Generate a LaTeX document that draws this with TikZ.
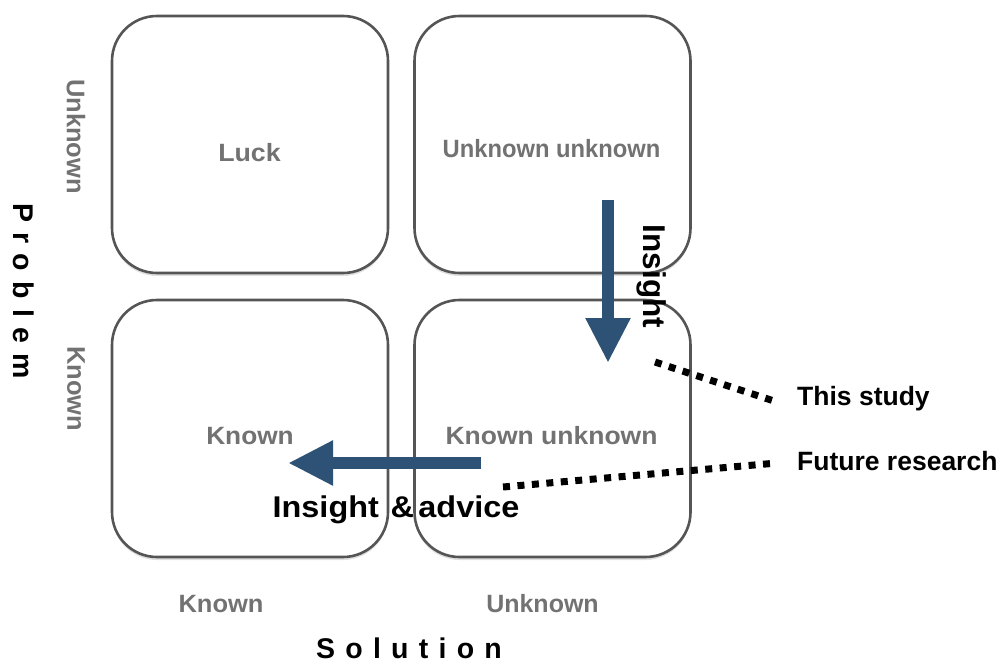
\documentclass[tikz,border=0pt]{standalone}
\usepackage{fontspec}
\setmainfont{Liberation Sans}
\usetikzlibrary{arrows.meta,shadows}
\definecolor{boxline}{HTML}{555555}
\definecolor{graytext}{HTML}{727272}
\definecolor{arrowblue}{HTML}{2E5275}
\tikzset{
  quad/.style={draw=boxline, line width=2.6pt, fill=white, rounded corners=45pt,
    minimum width=276pt, minimum height=257pt, inner sep=0pt,
    drop shadow={shadow xshift=0pt, shadow yshift=-3pt, fill=black, opacity=0.12}},
  graylbl/.style={text=graytext, font=\fontsize{25}{29}\selectfont\bfseries, inner sep=0pt, anchor=base},
  vgraylbl/.style={text=graytext, font=\fontsize{25.5}{29}\selectfont\bfseries, inner sep=0pt, rotate=-90},
  blacklbl/.style={text=black, font=\fontsize{26.5}{30}\selectfont\bfseries, inner sep=0pt, anchor=base west},
  biglbl/.style={text=black, font=\fontsize{30}{34}\selectfont\bfseries, inner sep=0pt},
  spacedlbl/.style={text=black, font=\fontsize{28.5}{32}\selectfont\bfseries\addfontfeature{LetterSpace=36}, inner sep=0pt},
  bluearrow/.style={draw=arrowblue, line width=12.5pt, -{Triangle[width=42pt,length=45pt]}},
  dotline/.style={draw=black, line width=7pt, dash pattern=on 7pt off 7.5pt}
}
\begin{document}
\begin{tikzpicture}[x=1pt,y=-1pt]
\useasboundingbox (0,0) rectangle (1000,664);
% quadrants
\node[quad] (q1) at (250,144.5) {};
\node[quad] (q2) at (552.5,144.5) {};
\node[quad] (q3) at (250,428.5) {};
\node[quad] (q4) at (552.5,428.5) {};
% quadrant texts
\node[graylbl, xscale=1.07] (tluck) at (249.5,161) {Luck};
\node[graylbl, xscale=0.95] (tuu) at (551.5,157) {Unknown unknown};
\node[graylbl, xscale=1.05] (tk) at (250,444) {Known};
\node[graylbl, xscale=1.06] (tku) at (551.5,444) {Known unknown};
% axis labels
\node[vgraylbl] (yunk) at (76,136.5) {Unknown};
\node[vgraylbl] (ykn) at (76,388.5) {Known};
\node[graylbl, xscale=1.02] (xkn) at (221,612) {Known};
\node[graylbl] (xunk) at (542.5,612) {Unknown};
\node[spacedlbl, rotate=-90] (prob) at (24,291) {Problem};
\node[spacedlbl, anchor=base] (sol) at (409,658) {Solution};
% arrows
\coordinate (dstart) at (608,200);
\coordinate (dend) at (608,363);
\draw[bluearrow] (dstart) -- (dend);
\coordinate (lstart) at (481,463);
\coordinate (lend) at (288,463);
\draw[bluearrow] (lstart) -- (lend);
\node[biglbl, rotate=-90] (ins) at (652,276.5) {\fontsize{31.5}{34}\selectfont Insight};
\node[biglbl, anchor=base, xscale=1.08] (insadv) at (396,517) {Insight\hspace{0.36em}\&\hspace{0.14em}advice};
% dotted connectors
\node[blacklbl] (study) at (797,405) {This study};
\node[blacklbl] (future) at (797,470) {Future research};
\coordinate (s0) at (655,362);
\coordinate (f0) at (503,487);
\draw[dotline] (s0) -- ([xshift=-20pt,yshift=3pt]study.base west);
\draw[dotline] (f0) -- ([xshift=-20pt,yshift=7pt]future.base west);
\end{tikzpicture}
\end{document}
